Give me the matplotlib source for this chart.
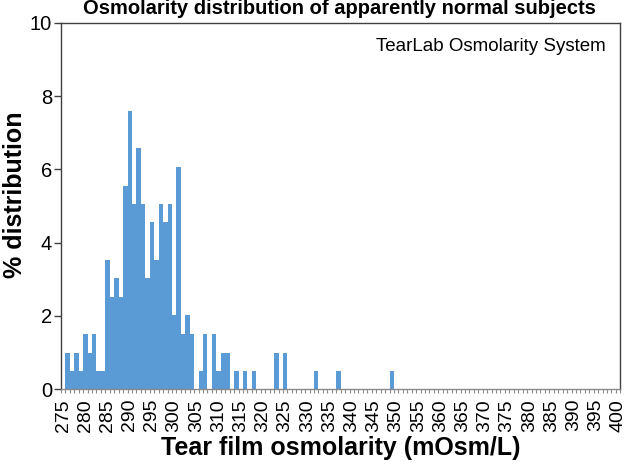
import matplotlib
matplotlib.use('Agg')
import matplotlib.pyplot as plt
import numpy as np

plt.rcParams['font.family'] = ['Liberation Sans', 'DejaVu Sans']

# osmolarity bins (mOsm/L) and % distribution
osm = [276, 277, 278, 279, 280, 281, 282, 283, 284,
       285, 286, 287, 288, 289, 290, 291, 292, 293,
       294, 295, 296, 297, 298, 299, 300, 301, 302, 303, 304,
       306, 307, 309, 310, 311, 312,
       314, 316, 318, 323, 325, 332, 337, 349]
pct = [1.0, 0.5, 1.0, 0.5, 1.5, 1.0, 1.5, 0.5, 0.5,
       3.53, 2.52, 3.03, 2.52, 5.55, 7.58, 5.05, 6.57, 5.05,
       3.03, 4.55, 3.53, 5.05, 4.55, 5.05, 2.02, 6.07, 1.52, 2.02, 1.52,
       0.5, 1.5, 1.5, 0.5, 1.0, 1.0,
       0.5, 0.5, 0.5, 1.0, 1.0, 0.5, 0.5, 0.5]
xlabels = list(range(275, 401, 5))

fig = plt.figure(figsize=(6.26, 4.69), dpi=100)
ax = fig.add_axes([0.0974, 0.17, 0.8936, 0.7816])

ax.bar(osm, pct, width=1.0, color='#5b9bd5', linewidth=0)

ax.set_xlim(274.5, 400.5)
ax.set_ylim(0, 10)
ax.set_yticks([0, 2, 4, 6, 8, 10])
ax.set_xticks(xlabels)
ax.set_xticklabels([str(v) for v in xlabels], rotation=90, fontsize=14)
ax.set_xticks(np.arange(274.5, 401, 1), minor=True)
ax.tick_params(axis='x', which='major', length=0, pad=7)
ax.tick_params(axis='x', which='minor', length=3, color='#8a8a8a', width=0.8)
ax.tick_params(axis='y', labelsize=14.5, length=5, color='#404040', width=1, pad=1.5)

for s in ['left', 'top', 'right']:
    ax.spines[s].set_color('#404040')
    ax.spines[s].set_linewidth(1.0)
ax.spines['bottom'].set_color('#8a8a8a')
ax.spines['bottom'].set_linewidth(1.0)

fig.text(0.024, 0.584, '% distribution', rotation=90, ha='center', va='center',
         fontsize=18, fontweight='bold')
fig.text(0.545, 0.045, 'Tear film osmolarity (mOsm/L)', ha='center', va='center',
         fontsize=18, fontweight='bold')
ax.text(0.973, 0.936, 'TearLab Osmolarity System', transform=ax.transAxes,
        ha='right', va='center', fontsize=13.5)
fig.text(0.543, 0.982, 'Osmolarity distribution of apparently normal subjects',
         ha='center', va='center', fontsize=14.5, fontweight='bold')

fig.savefig('out.png', dpi=100)
